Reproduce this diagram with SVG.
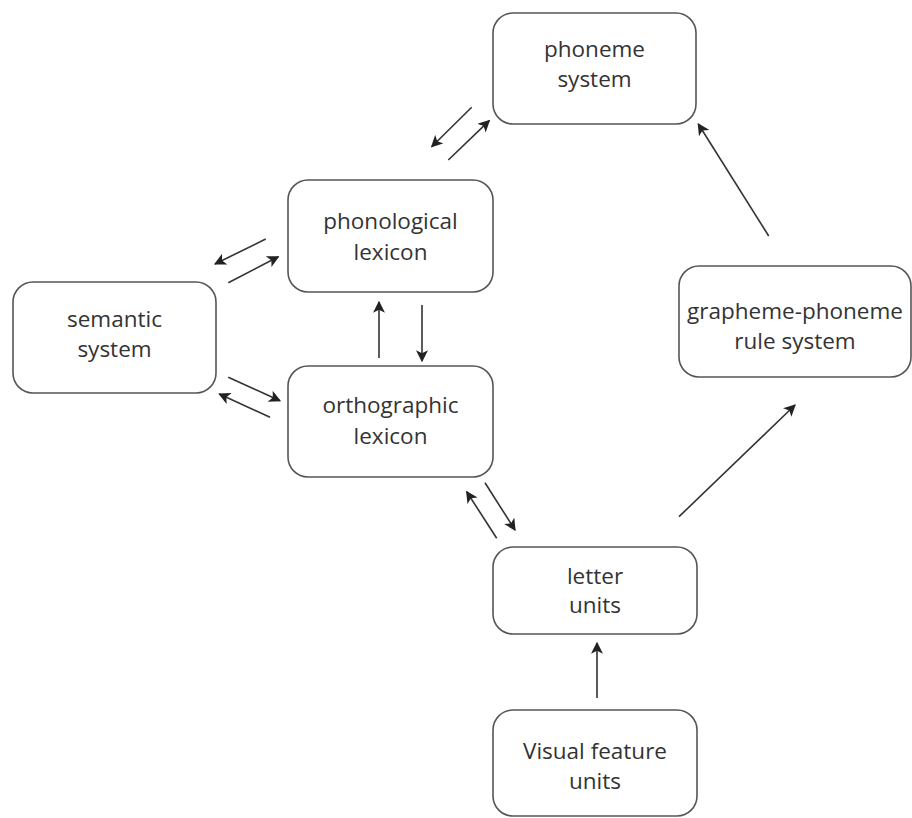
<svg xmlns="http://www.w3.org/2000/svg" width="912" height="818" viewBox="0 0 912 818">
<defs>
<style>
.box{fill:#fff;stroke:#555;stroke-width:1.6}
.lbl{font-family:"Open Sans","Noto Sans",sans-serif;font-size:22.5px;fill:#333;text-anchor:middle}
.ln{stroke:#333;stroke-width:1.6;fill:none;marker-end:url(#ah)}
</style>
<marker id="ah" viewBox="0 0 10 10" refX="9" refY="5" markerWidth="13" markerHeight="12" markerUnits="userSpaceOnUse" orient="auto">
<path d="M0,0 L10,5 L0,10 L2.5,5 Z" fill="#222"/>
</marker>
</defs>
<rect width="912" height="818" fill="#fff"/>
<g id="phoneme">
<rect class="box" x="493" y="13" width="203" height="111" rx="20"/>
<text class="lbl" x="594.5" y="57">phoneme</text>
<text class="lbl" x="594.5" y="87">system</text>
</g>
<g id="phonological">
<rect class="box" x="288" y="180" width="205" height="112" rx="20"/>
<text class="lbl" x="390.5" y="229">phonological</text>
<text class="lbl" x="390.5" y="260">lexicon</text>
</g>
<g id="semantic">
<rect class="box" x="13" y="282" width="203" height="111" rx="20"/>
<text class="lbl" x="114.5" y="327">semantic</text>
<text class="lbl" x="114.5" y="357">system</text>
</g>
<g id="orthographic">
<rect class="box" x="288" y="366" width="205" height="111" rx="20"/>
<text class="lbl" x="390.5" y="413">orthographic</text>
<text class="lbl" x="390.5" y="444">lexicon</text>
</g>
<g id="grapheme">
<rect class="box" x="679" y="266" width="232" height="111" rx="20"/>
<text class="lbl" x="795" y="319">grapheme-phoneme</text>
<text class="lbl" x="795" y="349">rule system</text>
</g>
<g id="letter">
<rect class="box" x="493" y="547" width="204" height="87" rx="20"/>
<text class="lbl" x="595" y="584">letter</text>
<text class="lbl" x="595" y="613">units</text>
</g>
<g id="visual">
<rect class="box" x="493" y="710" width="204" height="106" rx="20"/>
<text class="lbl" x="595" y="759">Visual feature</text>
<text class="lbl" x="595" y="789">units</text>
</g>
<g id="connectors">
<line class="ln" x1="471.7" y1="107.3" x2="431.7" y2="146.7"/>
<line class="ln" x1="448.3" y1="160" x2="489.3" y2="120.7"/>
<line class="ln" x1="265.7" y1="239" x2="215" y2="264"/>
<line class="ln" x1="228.3" y1="282.7" x2="278.3" y2="256.7"/>
<line class="ln" x1="379" y1="358" x2="379" y2="302"/>
<line class="ln" x1="422" y1="305" x2="422" y2="361"/>
<line class="ln" x1="228.3" y1="377.3" x2="280" y2="400.7"/>
<line class="ln" x1="270" y1="417.3" x2="219.3" y2="394"/>
<line class="ln" x1="496.7" y1="538.3" x2="466.7" y2="491.7"/>
<line class="ln" x1="485" y1="482.7" x2="515" y2="530"/>
<line class="ln" x1="768.7" y1="236" x2="698.3" y2="124"/>
<line class="ln" x1="679" y1="516.7" x2="795" y2="405"/>
<line class="ln" x1="597" y1="698" x2="597" y2="643"/>
</g>
</svg>
